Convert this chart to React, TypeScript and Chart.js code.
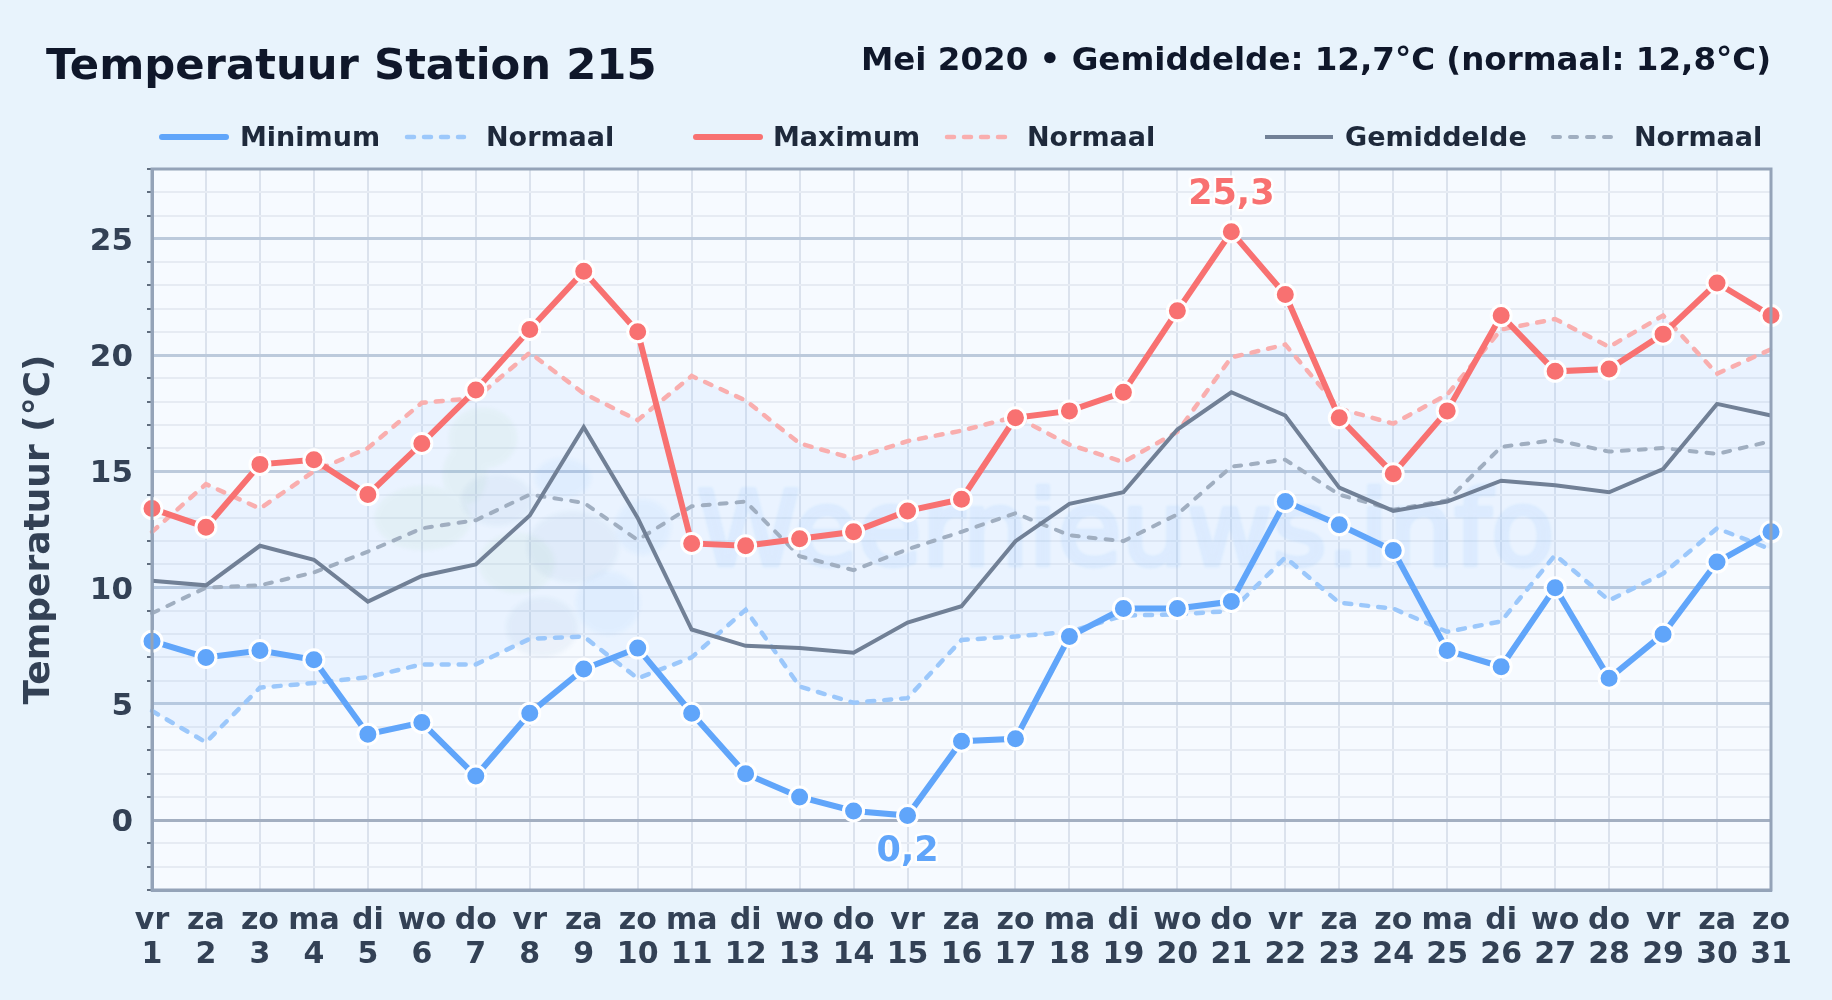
import React, { useEffect, useRef } from "react";
import { Chart, registerables } from "chart.js";

Chart.register(...registerables);

const weekdays = ["vr","za","zo","ma","di","wo","do","vr","za","zo","ma","di","wo","do","vr","za","zo","ma","di","wo","do","vr","za","zo","ma","di","wo","do","vr","za","zo"];
const days = ["1","2","3","4","5","6","7","8","9","10","11","12","13","14","15","16","17","18","19","20","21","22","23","24","25","26","27","28","29","30","31"];
const minimum = [7.7,7.0,7.3,6.9,3.7,4.2,1.9,4.6,6.5,7.4,4.6,2.0,1.0,0.4,0.2,3.4,3.5,7.9,9.1,9.1,9.4,13.7,12.7,11.6,7.3,6.6,10.0,6.1,8.0,11.1,12.4];
const maximum = [13.4,12.6,15.3,15.5,14.0,16.2,18.5,21.1,23.6,21.0,11.9,11.8,12.1,12.4,13.3,13.8,17.3,17.6,18.4,21.9,25.3,22.6,17.3,14.9,17.6,21.7,19.3,19.4,20.9,23.1,21.7];
const gemiddelde = [10.3,10.1,11.8,11.2,9.4,10.5,11.0,13.1,16.9,13.0,8.2,7.5,7.4,7.2,8.5,9.2,12.0,13.6,14.1,16.8,18.4,17.4,14.3,13.3,13.7,14.6,14.4,14.1,15.1,17.9,17.4];
const normaalMin = [4.7,3.35,5.7,5.9,6.15,6.7,6.7,7.8,7.9,6.1,7.0,9.05,5.75,5.05,5.25,7.75,7.9,8.1,8.8,8.85,9.0,11.3,9.35,9.1,8.1,8.55,11.4,9.45,10.6,12.55,11.65];
const normaalMax = [12.4,14.45,13.4,15.0,16.0,17.95,18.15,20.1,18.35,17.2,19.1,18.05,16.2,15.55,16.3,16.75,17.35,16.15,15.4,16.7,19.9,20.45,17.7,17.05,18.3,21.1,21.55,20.35,21.7,19.2,20.25];
const normaalGem = [8.9,10.0,10.1,10.65,11.55,12.55,12.9,14.0,13.65,12.05,13.5,13.7,11.35,10.75,11.65,12.4,13.2,12.25,12.0,13.15,15.2,15.5,14.0,13.35,13.75,16.05,16.35,15.85,16.0,15.75,16.3];

const FONT = '"DejaVu Sans"';
const BLUE = "#60a5fa", RED = "#f87171", SLATE = "#718096";
const BLUE_L = "#9cc8fb", RED_L = "#f9aeae", SLATE_L = "#a0aec0";
const DASH = [7, 10];

const legendItems = [
  { label: "Minimum", color: BLUE, x0: 162, x1: 226, tx: 240, width: 6, dash: [] as number[] },
  { label: "Normaal", color: BLUE_L, x0: 407, x1: 464, tx: 486, width: 4.5, dash: DASH },
  { label: "Maximum", color: RED, x0: 696, x1: 760, tx: 773, width: 6, dash: [] as number[] },
  { label: "Normaal", color: RED_L, x0: 947, x1: 1005, tx: 1027, width: 4.5, dash: DASH },
  { label: "Gemiddelde", color: SLATE, x0: 1265, x1: 1333, tx: 1345, width: 4, dash: [] as number[] },
  { label: "Normaal", color: SLATE_L, x0: 1553, x1: 1618, tx: 1634, width: 4, dash: DASH },
];

const blobGroups = [
  { color: "#86be82", alpha: 0.07, items: [[483, 438, 34, 30], [423, 518, 48, 32], [465, 475, 22, 30], [517, 563, 38, 30]] },
  { color: "#3b6eaa", alpha: 0.055, items: [[497, 500, 36, 26], [573, 547, 46, 36], [542, 627, 36, 30]] },
  { color: "#60a5fa", alpha: 0.07, items: [[563, 478, 28, 20], [643, 527, 28, 28], [608, 603, 32, 32]] },
];

const decor = {
  id: "decor",
  beforeDatasetsDraw(chart: any) {
    const { ctx, chartArea: a } = chart;
    const layer = document.createElement("canvas");
    layer.width = 1832;
    layer.height = 1000;
    const g = layer.getContext("2d")!;
    ctx.save();
    ctx.beginPath();
    ctx.rect(a.left, a.top, a.right - a.left, a.bottom - a.top);
    ctx.clip();
    for (const grp of blobGroups) {
      g.clearRect(0, 0, 1832, 1000);
      g.filter = "blur(2px)";
      g.fillStyle = grp.color;
      for (const [x, y, rx, ry] of grp.items) {
        g.beginPath();
        g.ellipse(x, y, rx, ry, 0, 0, Math.PI * 2);
        g.fill();
      }
      ctx.globalAlpha = grp.alpha;
      ctx.drawImage(layer, 0, 0);
    }
    g.clearRect(0, 0, 1832, 1000);
    g.filter = "blur(1px)";
    g.fillStyle = "#60a5fa";
    g.strokeStyle = "#60a5fa";
    g.lineWidth = 5;
    g.lineJoin = "round";
    g.font = `104px ${FONT}`;
    g.textAlign = "left";
    g.textBaseline = "alphabetic";
    g.fillText("Weernieuws.info", 697, 565);
    g.strokeText("Weernieuws.info", 697, 565);
    ctx.globalAlpha = 0.1;
    ctx.drawImage(layer, 0, 0);
    ctx.restore();
  },
  beforeDraw(chart: any) {
    const { ctx, chartArea: a } = chart;
    ctx.save();
    ctx.fillStyle = "#f6faff";
    ctx.fillRect(a.left, a.top, a.right - a.left, a.bottom - a.top);
    ctx.restore();
  },
  afterDatasetsDraw(chart: any) {
    const { ctx, chartArea: a } = chart;
    ctx.save();
    ctx.strokeStyle = "#94a3b8";
    ctx.lineWidth = 3;
    ctx.strokeRect(a.left, a.top, a.right - a.left, a.bottom - a.top);
    ctx.restore();
    const minIdx = minimum.indexOf(Math.min(...minimum));
    const maxIdx = maximum.indexOf(Math.max(...maximum));
    const xs = chart.scales.x, ys = chart.scales.y;
    const note = (v: number, i: number, color: string, dy: number) => {
      const text = v.toFixed(1).replace(".", ",");
      ctx.save();
      ctx.font = `bold 35px ${FONT}`;
      ctx.textAlign = "center";
      ctx.textBaseline = "middle";
      ctx.lineWidth = 5;
      ctx.lineJoin = "round";
      ctx.strokeStyle = "rgba(255,255,255,0.85)";
      const x = xs.getPixelForValue(i), y = ys.getPixelForValue(v) + dy;
      ctx.strokeText(text, x, y);
      ctx.fillStyle = color;
      ctx.fillText(text, x, y);
      ctx.restore();
    };
    note(maximum[maxIdx], maxIdx, RED, -37);
    note(minimum[minIdx], minIdx, BLUE, 36);
  },
  afterDraw(chart: any) {
    const { ctx } = chart;
    ctx.save();
    ctx.textBaseline = "alphabetic";
    ctx.fillStyle = "#0f172a";
    ctx.textAlign = "left";
    ctx.font = `bold 43.3px ${FONT}`;
    ctx.fillText("Temperatuur Station 215", 46, 79);
    ctx.textAlign = "right";
    ctx.font = `bold 32.5px ${FONT}`;
    ctx.fillText("Mei 2020 • Gemiddelde: 12,7°C (normaal: 12,8°C)", 1771, 70);
    ctx.textAlign = "left";
    ctx.font = `bold 27px ${FONT}`;
    for (const it of legendItems) {
      ctx.beginPath();
      ctx.strokeStyle = it.color;
      ctx.lineWidth = it.width;
      ctx.lineCap = it.dash.length || it.width > 5 ? "round" : "butt";
      ctx.setLineDash(it.dash);
      ctx.moveTo(it.x0, 137);
      ctx.lineTo(it.x1, 137);
      ctx.stroke();
      ctx.setLineDash([]);
      ctx.fillStyle = "#1e293b";
      ctx.fillText(it.label, it.tx, 146);
    }
    ctx.restore();
  },
};

export default function App() {
  const ref = useRef<HTMLCanvasElement>(null);
  useEffect(() => {
    document.body.style.margin = "0";
    document.body.style.background = "#e8f3fc";
    const line = (label: string, data: number[], color: string, width: number, order: number, extra: any = {}) => ({
      label, data, order, borderColor: color, backgroundColor: color, borderWidth: width,
      pointRadius: 0, tension: 0, clip: false, fill: false, ...extra,
    });
    const marks = { pointRadius: 10, pointBorderWidth: 3, pointBorderColor: "#ffffff", pointHoverRadius: 10 };
    const dash = { borderDash: DASH, borderCapStyle: "round" };
    const chart = new Chart(ref.current!, {
      type: "line",
      data: {
        labels: weekdays.map((d, i) => [d, days[i]]),
        datasets: [
          line("Normaal min", normaalMin, BLUE_L, 4.5, 5, dash),
          line("Normaal max", normaalMax, RED_L, 4.5, 4, { ...dash, fill: { target: 0 }, backgroundColor: "rgba(147,197,253,0.12)" }),
          line("Normaal gem", normaalGem, SLATE_L, 4, 3, dash),
          line("Gemiddelde", gemiddelde, SLATE, 4, 2),
          line("Minimum", minimum, BLUE, 6, 1, { ...marks, pointBackgroundColor: BLUE }),
          line("Maximum", maximum, RED, 6, 0, { ...marks, pointBackgroundColor: RED }),
        ],
      },
      options: {
        responsive: false,
        animation: false,
        devicePixelRatio: 1,
        layout: { padding: { left: 0, right: 61, top: 169, bottom: 0 } },
        plugins: { legend: { display: false }, title: { display: false }, tooltip: { enabled: false } },
        scales: {
          x: {
            afterFit: (s: any) => { s.height = 110; },
            grid: { color: "#dbe2ed", lineWidth: 2, drawTicks: false },
            border: { color: "#94a3b8", width: 3 },
            ticks: { autoSkip: false, maxRotation: 0, minRotation: 0, padding: 14, color: "#334155", font: { family: FONT, weight: "bold", size: 30, lineHeight: 1.13 } },
          },
          y: {
            min: -3,
            max: 28,
            afterFit: (s: any) => { s.width = 152; },
            title: { display: true, text: "Temperatuur (°C)", color: "#334155", font: { family: FONT, weight: "bold", size: 36 }, padding: { top: 18, bottom: 0 } },
            border: { color: "#94a3b8", width: 3 },
            grid: {
              tickLength: 5,
              color: (c: any) => { const v = c.tick?.value; return v === 0 ? "#a3afc1" : v % 5 === 0 ? "#bccadc" : "#e6ebf3"; },
              lineWidth: (c: any) => (c.tick?.value % 5 === 0 ? 3 : 2),
              tickColor: (c: any) => (c.tick?.value % 5 === 0 ? "rgba(0,0,0,0)" : "#334155"),
              tickWidth: 1.5,
            },
            ticks: {
              stepSize: 1, autoSkip: false, padding: 14, color: "#334155", labelOffset: 3,
              font: { family: FONT, weight: "bold", size: 31 },
              callback: (v: any) => (Number(v) % 5 === 0 ? String(v) : ""),
            },
          },
        },
      },
      plugins: [decor],
    } as any);
    return () => chart.destroy();
  }, []);
  return (
    <div style={{ position: "absolute", left: 0, top: 0, width: 1832, height: 1000, background: "#e8f3fc" }}>
      <canvas ref={ref} width={1832} height={1000} style={{ display: "block" }} />
    </div>
  );
}
